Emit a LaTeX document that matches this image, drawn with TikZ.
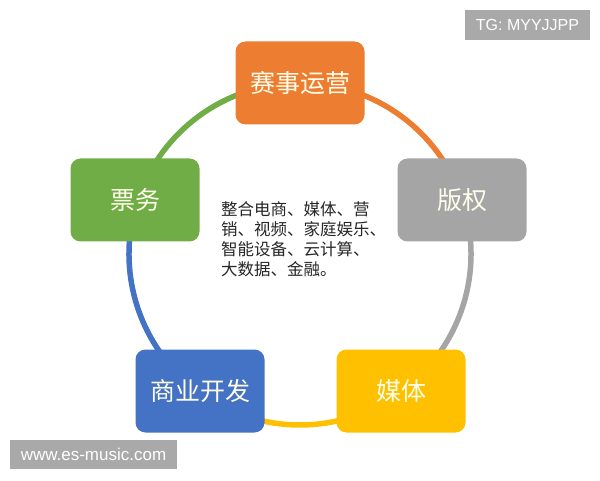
\documentclass[tikz,border=0pt]{standalone}
\usepackage{fontspec}
\setmainfont{Liberation Sans}
\newfontfamily\cjk{Noto Sans CJK SC}
\definecolor{saiorange}{HTML}{ED7D31}
\definecolor{bangray}{HTML}{A5A5A5}
\definecolor{meiyellow}{HTML}{FFC000}
\definecolor{shangblue}{HTML}{4472C4}
\definecolor{piaogreen}{HTML}{70AD47}
\definecolor{wmgray}{HTML}{A9A9A9}
\begin{document}
\begin{tikzpicture}[x=1pt,y=1pt,
  box/.style={rounded corners=10pt, minimum width=129pt, minimum height=83pt,
    text=white!92!yellow, font=\cjk\fontsize{25}{30}\selectfont},
  ring/.style={line width=5.5pt}]
  \useasboundingbox (0,0) rectangle (600,480);

  % Centre du cercle
  \coordinate (O) at (300,226);

  % Arcs colores entre les blocs
  \draw[ring, saiorange]  ([shift={(90:171)}]O) arc[start angle=90, end angle=18, radius=171];
  \draw[ring, bangray]    ([shift={(18:171)}]O) arc[start angle=18, end angle=-54, radius=171];
  \draw[ring, meiyellow]  ([shift={(-54:171)}]O) arc[start angle=-54, end angle=-126, radius=171];
  \draw[ring, shangblue]  ([shift={(-126:171)}]O) arc[start angle=-126, end angle=-198, radius=171];
  \draw[ring, piaogreen]  ([shift={(162:171)}]O) arc[start angle=162, end angle=90, radius=171];

  % Blocs
  \node[box, fill=saiorange]  (sai)   at (300,397) {赛事运营};
  \node[box, fill=bangray]    (ban)   at (462,280) {版权};
  \node[box, fill=meiyellow]  (mei)   at (401,89)  {媒体};
  \node[box, fill=shangblue]  (shang) at (200,89)  {商业开发};
  \node[box, fill=piaogreen]  (piao)  at (135,280) {票务};

  % Texte central
  \node[anchor=north west, align=left, inner sep=0pt, text=black!85,
    font=\cjk\fontsize{16.5}{20}\selectfont] (desc) at (221,279)
    {整合电商、媒体、营\\销、视频、家庭娱乐、\\智能设备、云计算、\\大数据、金融。};

  % Filigranes
  \node[fill=wmgray, text=white, minimum width=125pt, minimum height=30pt,
    font=\fontsize{16}{19}\selectfont] (tg) at (527.5,455) {TG: MYYJJPP};
  \node[fill=wmgray, text=white, minimum width=167pt, minimum height=29pt,
    font=\fontsize{17}{20}\selectfont] (www) at (93.5,25.5) {www.es-music.com};
\end{tikzpicture}
\end{document}
